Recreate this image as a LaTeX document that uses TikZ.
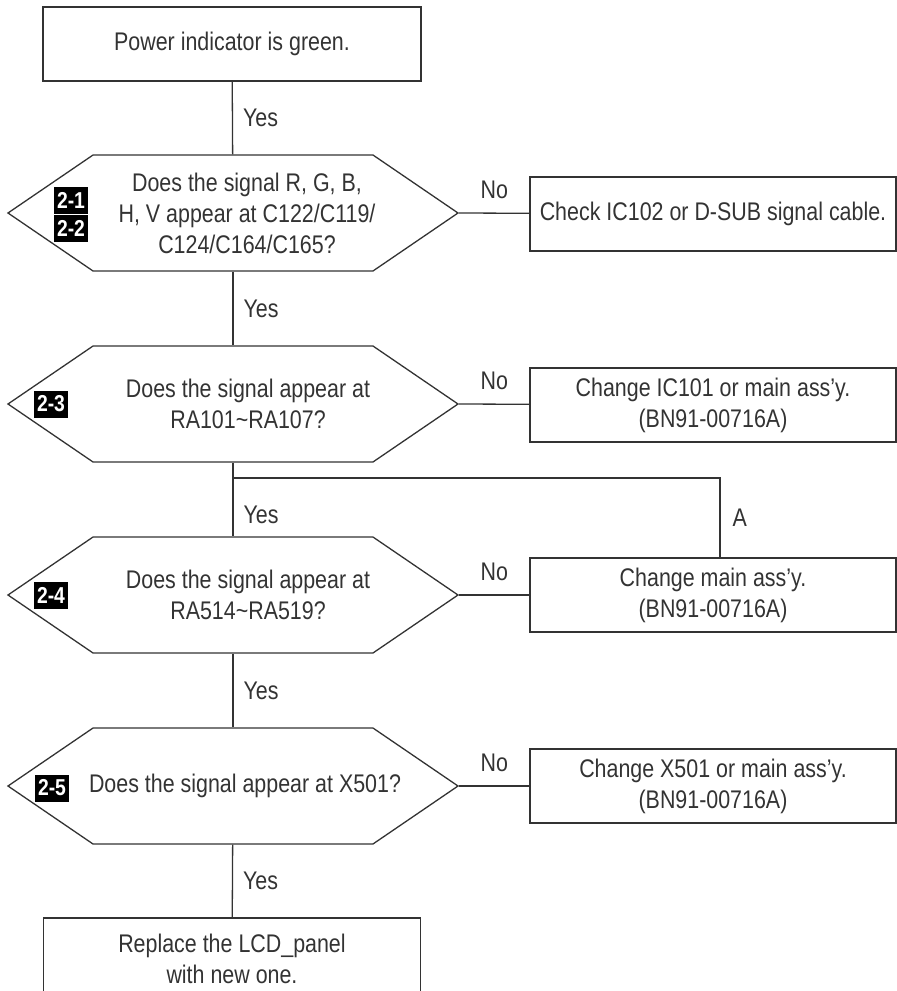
\documentclass[tikz,border=0pt]{standalone}
\usepackage{fontspec}
\setmainfont{Liberation Sans}[FakeStretch=0.84] % narrow sans like the manual
\usetikzlibrary{
    shapes.symbols, % For the hexagonal decision nodes (signal shape)
    calc,           % For coordinate calculations
    positioning     % For label positioning
}
\definecolor{inkgray}{HTML}{333333}

\begin{document}
\begin{tikzpicture}[
    x=1pt, y=-1pt, % work in pixel-like units, y pointing down
    txt/.style={font=\fontsize{25.5}{31}\selectfont, text=inkgray, align=center},
    box/.style={draw=inkgray, line width=1.3pt, rectangle, inner sep=0pt, minimum height=74, txt},
    % Decision hexagon: a signal pointing both ways
    decision/.style={draw=inkgray, line width=1.3pt, signal, signal to=west and east,
        signal pointer angle=68.6, minimum width=450, minimum height=116, inner sep=0pt},
    tag/.style={fill=black, text=white, font=\fontsize{23}{23}\selectfont\bfseries,
        minimum width=34, minimum height=27, inner sep=0pt},
    link/.style={draw=inkgray, line width=1.3pt},
    yes/.style={txt, anchor=west, inner sep=0pt, xshift=10},
    no/.style={txt, inner sep=0pt, yshift=23}
]
    \useasboundingbox (0,0) rectangle (897,991); % keep the page size

    % Start box
    \node[box, minimum width=378] (power) at (232,44) {Power indicator is green.};

    % Decision nodes (hexagons) with their question texts
    \node[decision] (q1) at (233,213) {};
    \node[txt, xshift=14] (q1txt) at (q1) {Does the signal R, G, B,\\H, V appear at C122/C119/\\C124/C164/C165?};
    \node[decision] (q2) at (233,404) {};
    \node[txt, xshift=15] (q2txt) at (q2) {Does the signal appear at\\RA101\textasciitilde RA107?};
    \node[decision] (q3) at (233,595) {};
    \node[txt, xshift=15] (q3txt) at (q3) {Does the signal appear at\\RA514\textasciitilde RA519?};
    \node[decision] (q4) at (233,786) {};
    \node[txt, xshift=12] (q4txt) at (q4) {Does the signal appear at X501?};

    % Black reference tags
    \node[tag] (t21) at (71,200) {2-1};
    \node[tag] (t22) at (71,228) {2-2};
    \node[tag] (t23) at (51,404) {2-3};
    \node[tag] (t24) at (51,595) {2-4};
    \node[tag] (t25) at (52,788) {2-5};

    % Action boxes on the right
    \node[box, minimum width=366] (chk)  at (713,214) {Check IC102 or D-SUB signal cable.};
    \node[box, minimum width=366] (chg1) at (713,405) {Change IC101 or main ass’y.\\(BN91-00716A)};
    \node[box, minimum width=366] (chg2) at (713,595) {Change main ass’y.\\(BN91-00716A)};
    \node[box, minimum width=366] (chg3) at (713,786) {Change X501 or main ass’y.\\(BN91-00716A)};

    % Final box (runs off the bottom of the page)
    \node[box, minimum width=377, minimum height=82] (lcd) at (232,959) {Replace the LCD\_panel\\with new one.};

    % Yes path down the middle
    \draw[link] (power) -- node[yes] {Yes} (q1);
    \draw[link] (q1) -- node[yes] {Yes} (q2);
    \coordinate (jn) at (233,478);
    \draw[link] (q2) -- (jn) -- node[yes, yshift=-8] {Yes} (q3);
    \draw[link] (q3) -- node[yes] {Yes} (q4);
    \draw[link] (q4) -- node[yes] {Yes} (lcd);

    % No branches
    \draw[link] (q1.east) -- node[no] {No} (chk);
    \draw[link] (q2.east) -- node[no] {No} (chg1);
    \draw[link] (q3.east) -- node[no] {No} (chg2);
    \draw[link] (q4.east) -- node[no] {No} (chg3);

    % Branch A
    \coordinate (tapA) at (720,478);
    \draw[link] (jn) -- (tapA) -- node[txt, anchor=west, inner sep=0pt, xshift=12] {A} (tapA |- chg2.north);

\end{tikzpicture}
\end{document}
